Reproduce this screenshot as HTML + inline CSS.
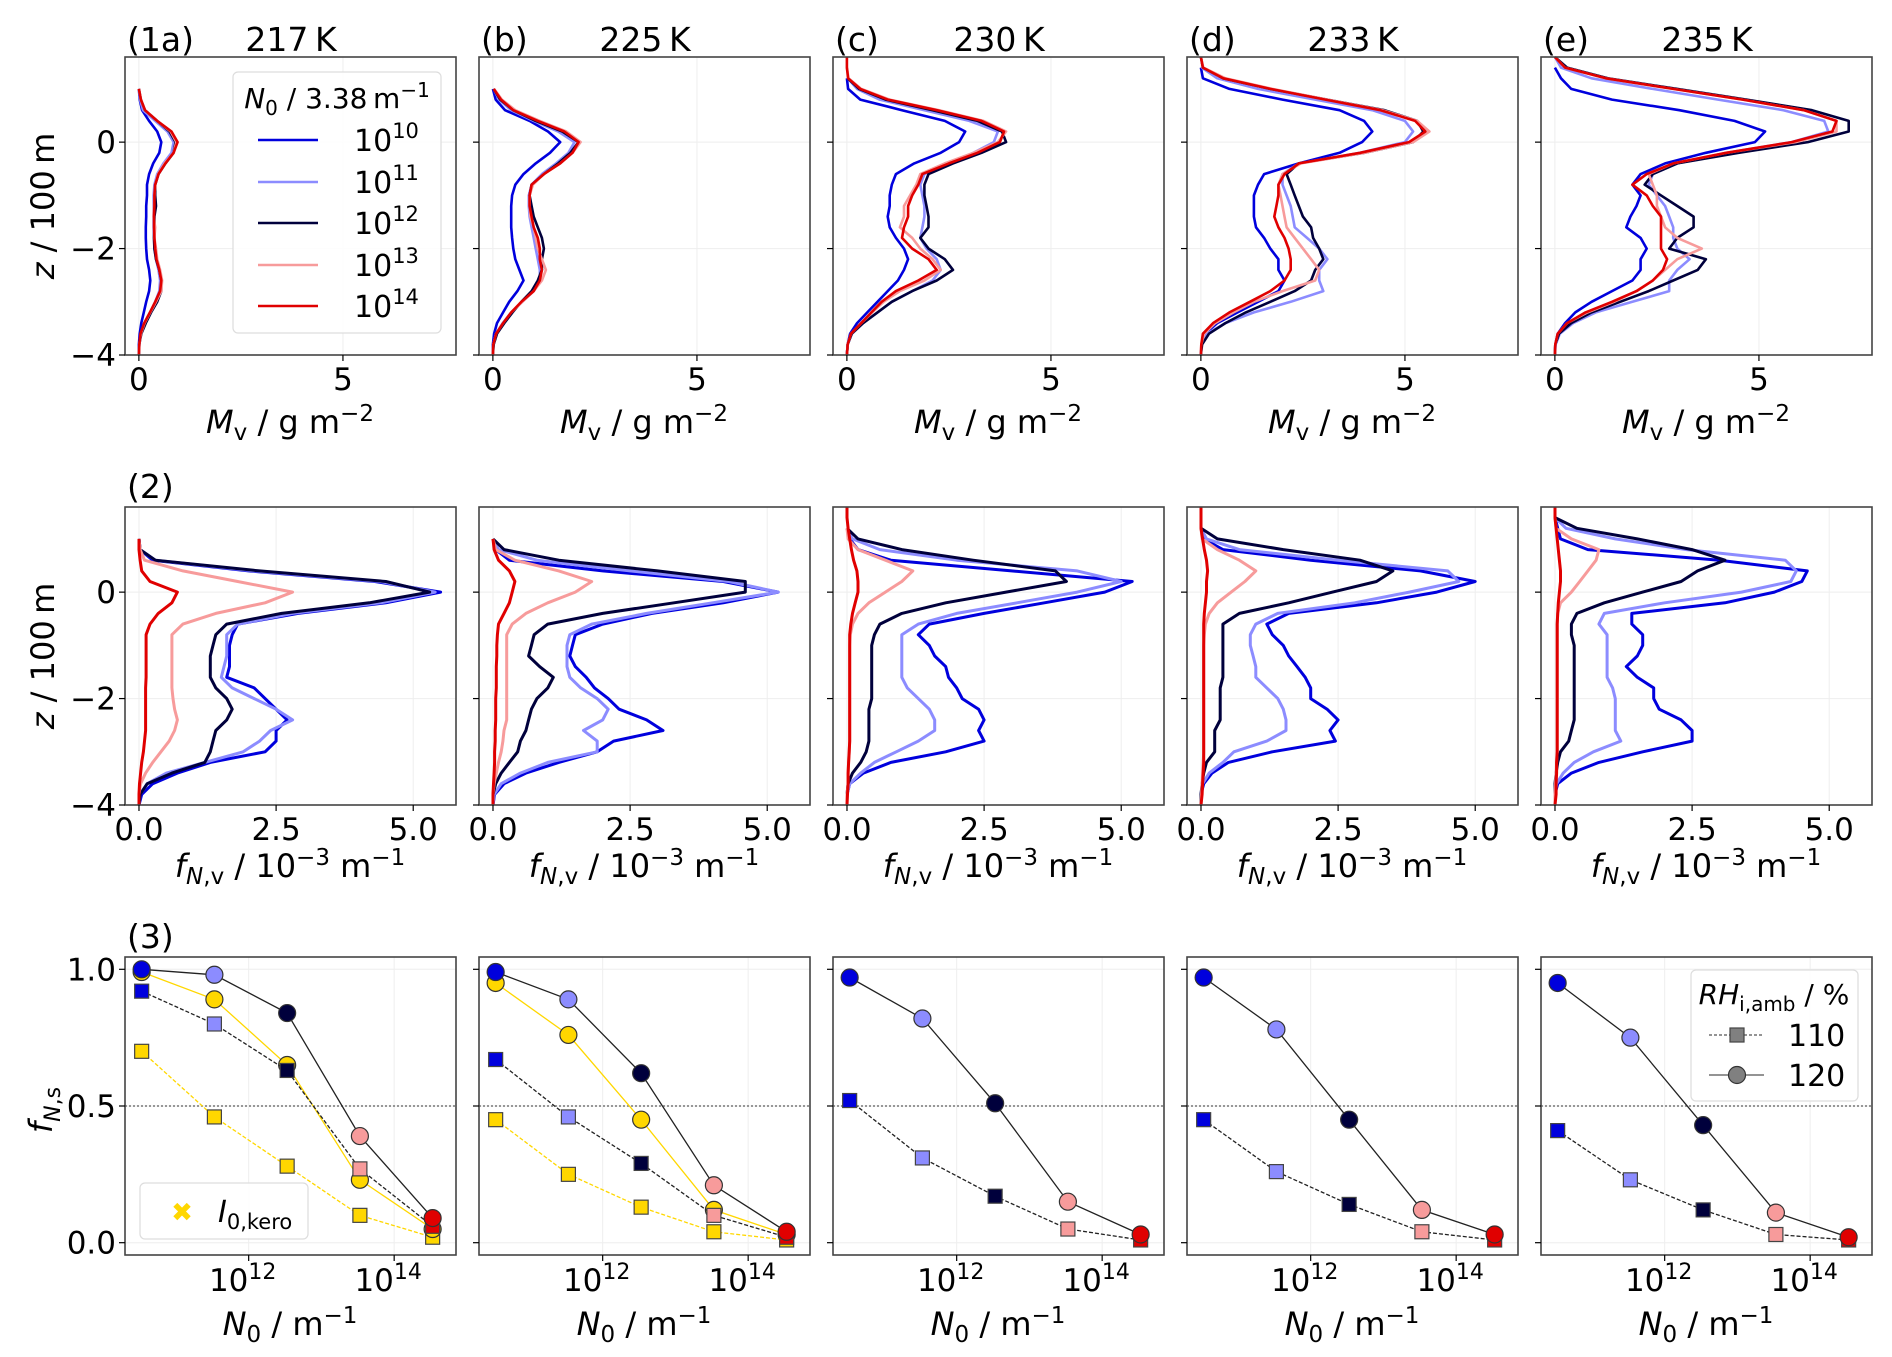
<!DOCTYPE html>
<html><head><meta charset="utf-8">
<style>
html,body{margin:0;padding:0;background:#fff;}
svg{display:block;font-family:"DejaVu Sans","Liberation Sans",sans-serif;}
</style></head>
<body>
<svg id="fig" width="1892" height="1357" viewBox="0 0 1892 1357" xmlns="http://www.w3.org/2000/svg"></svg>
<script>
const n = null;
const zGrid = [1.6,1.4,1.2,1.0,0.8,0.6,0.4,0.2,0,-0.2,-0.4,-0.6,-0.8,-1.0,-1.2,-1.4,-1.6,-1.8,-2.0,-2.2,-2.4,-2.6,-2.8,-3.0,-3.2,-3.4,-3.6,-3.8,-4.0];
const temps = ["217", "225", "230", "233", "235"];
const panelTags = ["(1a)", "(b)", "(c)", "(d)", "(e)"];
const seriesExp = ["10", "11", "12", "13", "14"];
const row1Ticks = [0, 5];
const row2Ticks = [0, 2.5, 5.0];
const row2TickLabels = ["0.0", "2.5", "5.0"];
const zTicks = [0, -2, -4];
const fsTicks = [0, 0.5, 1.0];
const fsTickLabels = ["0.0", "0.5", "1.0"];
const n0Values = [3.38e10, 3.38e11, 3.38e12, 3.38e13, 3.38e14];
const n0TickExp = [12, 14];

const mv217_10 = [n,n,n,0,0.02,0.08,0.25,0.45,0.55,0.5,0.35,0.25,0.2,0.2,0.18,0.18,0.17,0.17,0.18,0.2,0.25,0.28,0.25,0.18,0.12,0.06,0.02,0,0];
const mv217_11 = [n,n,n,0,0.03,0.1,0.4,0.7,0.85,0.8,0.6,0.45,0.38,0.36,0.36,0.36,0.36,0.37,0.38,0.42,0.48,0.52,0.5,0.4,0.28,0.14,0.05,0.01,0];
const mv217_12 = [n,n,n,0,0.05,0.15,0.45,0.75,0.9,0.85,0.65,0.48,0.4,0.4,0.42,0.38,0.38,0.37,0.38,0.42,0.5,0.55,0.55,0.45,0.3,0.17,0.06,0.01,0];
const mv217_13 = [n,n,n,0,0.05,0.15,0.45,0.78,0.92,0.85,0.63,0.47,0.4,0.38,0.37,0.36,0.4,0.38,0.42,0.45,0.52,0.57,0.55,0.42,0.28,0.14,0.05,0.01,0];
const mv217_14 = [n,n,n,0,0.05,0.15,0.45,0.8,0.95,0.85,0.65,0.48,0.4,0.38,0.38,0.37,0.37,0.38,0.4,0.43,0.5,0.55,0.52,0.4,0.27,0.13,0.04,0.01,0];
const mv225_10 = [n,n,n,0,0.07,0.3,0.9,1.35,1.65,1.4,1.05,0.75,0.55,0.47,0.45,0.45,0.45,0.47,0.5,0.55,0.65,0.75,0.6,0.4,0.25,0.1,0.03,0,0];
const mv225_11 = [n,n,n,0.02,0.15,0.45,1.0,1.6,2.0,1.85,1.55,1.2,0.95,0.88,0.88,0.9,0.95,1.0,1.05,1.1,1.15,1.15,1.0,0.72,0.45,0.24,0.08,0.01,0];
const mv225_12 = [n,n,n,0.02,0.18,0.5,1.05,1.7,2.1,1.9,1.6,1.25,0.95,0.9,0.95,1.0,1.1,1.2,1.25,1.2,1.2,1.1,0.95,0.7,0.48,0.28,0.1,0.02,0];
const mv225_13 = [n,n,n,0.03,0.22,0.55,1.15,1.8,2.15,1.95,1.65,1.25,0.98,0.9,0.9,0.92,1.0,1.05,1.1,1.2,1.3,1.2,1.0,0.72,0.45,0.25,0.08,0.01,0];
const mv225_14 = [n,n,n,0.02,0.2,0.5,1.1,1.75,2.1,1.95,1.65,1.25,0.95,0.9,0.9,0.95,1.0,1.1,1.15,1.15,1.2,1.15,1.0,0.7,0.45,0.25,0.08,0.01,0];
const mv230_10 = [n,n,0,0.03,0.33,1.35,2.4,2.9,2.75,2.3,1.65,1.2,1.1,1.05,1.05,1.0,1.05,1.2,1.4,1.5,1.4,1.25,1.0,0.75,0.5,0.25,0.08,0.02,0];
const mv230_11 = [n,n,0.02,0.25,0.8,1.9,3.0,3.7,3.6,3.1,2.5,1.9,1.8,1.85,1.9,1.9,1.85,1.8,1.95,2.2,2.3,2.1,1.6,1.1,0.75,0.4,0.12,0.02,0];
const mv230_12 = [n,n,0.02,0.3,0.95,2.1,3.2,3.8,3.9,3.3,2.6,2.0,1.9,1.9,1.95,2.0,2.0,1.8,2.0,2.4,2.6,2.2,1.6,1.1,0.75,0.4,0.12,0.02,0];
const mv230_13 = [n,0,0.04,0.35,1.05,2.25,3.35,3.9,3.7,3.1,2.4,1.8,1.7,1.55,1.4,1.4,1.3,1.6,1.8,2.1,2.3,1.9,1.3,0.9,0.62,0.35,0.1,0.02,0];
const mv230_14 = [0,0,0.03,0.33,1.0,2.2,3.3,3.85,3.75,3.2,2.5,1.85,1.75,1.6,1.5,1.5,1.4,1.35,1.6,2.0,2.2,1.75,1.2,0.85,0.6,0.35,0.1,0.02,0];
const mv233_10 = [n,0,0.05,0.7,2.0,3.4,4.0,4.2,3.95,3.4,2.4,1.55,1.4,1.3,1.3,1.3,1.35,1.55,1.7,1.9,1.9,2.05,1.9,1.4,0.9,0.4,0.1,0.02,0];
const mv233_11 = [n,0.02,0.4,1.4,2.8,4.2,5.0,5.2,5.0,3.9,2.4,2.0,2.0,2.1,2.2,2.25,2.3,2.6,2.9,3.1,2.9,2.9,3.0,2.2,1.3,0.6,0.15,0.02,0];
const mv233_12 = [0,0.05,0.55,1.7,3.1,4.5,5.3,5.45,5.2,4.0,2.4,2.1,2.2,2.3,2.4,2.5,2.7,2.75,2.9,3.0,2.8,2.7,2.3,1.7,1.1,0.6,0.2,0.03,0];
const mv233_13 = [0,0.06,0.6,1.75,3.1,4.45,5.3,5.6,5.2,4.0,2.45,2.0,1.9,1.95,2.0,2.05,2.1,2.3,2.5,2.7,2.9,2.8,2.0,1.3,0.8,0.35,0.08,0.01,0];
const mv233_14 = [0,0.05,0.55,1.7,3.05,4.4,5.25,5.5,5.1,3.9,2.4,2.05,1.9,1.9,1.85,1.8,1.9,2.05,2.15,2.2,2.2,2.05,1.7,1.2,0.7,0.3,0.05,0.01,0];
const mv235_10 = [n,0,0.15,0.4,1.4,3.05,4.4,5.15,4.9,3.7,2.7,2.1,1.9,2.1,2.0,1.85,1.75,2.1,2.25,2.1,2.1,1.9,1.4,0.9,0.5,0.25,0.07,0.01,0];
const mv235_11 = [0,0.15,0.9,2.4,4.0,5.6,6.6,6.7,5.8,4.2,3.0,2.4,2.3,2.5,2.7,2.8,2.9,2.9,3.0,3.3,3.0,2.8,2.8,1.9,1.0,0.45,0.12,0.02,0];
const mv235_12 = [0,0.3,1.3,3.0,4.7,6.3,7.2,7.2,6.2,4.5,3.0,2.4,2.2,2.6,3.0,3.4,3.4,3.0,2.8,3.7,3.5,2.9,2.3,1.6,0.9,0.4,0.1,0.01,0];
const mv235_13 = [0,0.25,1.25,2.9,4.6,6.1,6.9,6.9,5.9,4.2,2.9,2.3,2.4,2.5,2.5,2.6,2.7,3.0,3.6,3.0,2.7,2.4,2.0,1.45,0.8,0.3,0.07,0.01,0];
const mv235_14 = [0,0.25,1.25,2.9,4.6,6.1,6.9,6.8,5.8,4.2,2.9,2.25,1.9,2.25,2.4,2.6,2.6,2.6,2.6,2.75,2.65,2.4,2.0,1.4,0.75,0.3,0.07,0.01,0];

const fn217_10 = [n,n,n,0,0.02,0.25,2.0,4.3,5.5,4.5,2.9,1.8,1.7,1.65,1.65,1.65,1.6,2.1,2.3,2.5,2.7,2.5,2.5,2.3,1.3,0.7,0.25,0.05,0];
const fn217_11 = [n,n,n,0,0.02,0.3,2.1,4.4,5.4,4.4,2.8,1.8,1.6,1.6,1.6,1.55,1.5,1.7,2.1,2.5,2.8,2.4,2.2,1.9,1.2,0.5,0.15,0.02,0];
const fn217_12 = [n,n,n,0,0.02,0.3,2.2,4.5,5.3,4.2,2.6,1.6,1.4,1.35,1.3,1.3,1.3,1.4,1.6,1.7,1.6,1.4,1.35,1.3,1.2,0.6,0.15,0.02,0];
const fn217_13 = [n,n,n,0,0.02,0.1,0.8,1.8,2.8,2.3,1.4,0.8,0.6,0.6,0.6,0.6,0.6,0.6,0.62,0.65,0.7,0.65,0.55,0.4,0.25,0.12,0.03,0,0];
const fn217_14 = [n,n,n,0,0,0.02,0.05,0.2,0.7,0.6,0.35,0.2,0.13,0.13,0.13,0.13,0.13,0.12,0.12,0.12,0.12,0.12,0.1,0.08,0.05,0.03,0.01,0,0];
const fn225_10 = [n,n,n,0,0.05,0.3,2.0,4.2,5.2,4.2,2.9,2.0,1.5,1.45,1.4,1.5,1.7,1.85,2.1,2.3,2.8,3.1,2.2,1.9,1.2,0.6,0.2,0.03,0];
const fn225_11 = [n,n,n,0,0.1,0.8,2.5,4.3,5.2,4.0,2.8,1.8,1.4,1.35,1.35,1.35,1.4,1.6,1.9,2.1,2.0,1.65,1.9,1.9,1.0,0.5,0.15,0.02,0];
const fn225_12 = [n,n,n,0,0.2,1.2,3.0,4.6,4.6,3.3,2.0,1.0,0.75,0.7,0.65,0.85,1.1,1.0,0.8,0.7,0.65,0.6,0.5,0.45,0.3,0.15,0.05,0,0];
const fn225_13 = [n,n,n,0,0.05,0.4,1.2,1.8,1.5,1.0,0.6,0.35,0.25,0.25,0.25,0.25,0.25,0.25,0.25,0.25,0.25,0.2,0.18,0.15,0.1,0.06,0.02,0,0];
const fn225_14 = [n,n,n,0,0.02,0.1,0.3,0.4,0.35,0.3,0.2,0.1,0.08,0.07,0.07,0.06,0.06,0.06,0.05,0.05,0.05,0.04,0.04,0.03,0.03,0.02,0.01,0,0];
const fn230_10 = [n,n,0,0.05,0.2,0.8,3.0,5.2,4.7,3.6,2.5,1.5,1.3,1.5,1.6,1.8,1.85,2.0,2.1,2.4,2.5,2.4,2.5,1.8,0.8,0.3,0.05,0,0];
const fn230_11 = [n,n,0,0.1,0.6,2.0,4.2,5.0,4.2,3.1,2.0,1.3,1.0,1.0,1.0,1.0,1.0,1.1,1.3,1.5,1.6,1.6,1.3,0.9,0.5,0.25,0.05,0,0];
const fn230_12 = [n,n,0,0.2,1.0,2.3,3.8,4.0,2.9,1.8,1.0,0.6,0.5,0.45,0.45,0.45,0.45,0.45,0.45,0.4,0.4,0.4,0.4,0.35,0.25,0.1,0.02,0,0];
const fn230_13 = [n,n,0,0.02,0.2,0.7,1.2,1.0,0.7,0.4,0.2,0.1,0.06,0.05,0.05,0.05,0.05,0.05,0.05,0.05,0.05,0.05,0.05,0.04,0.03,0.02,0.02,0,0];
const fn230_14 = [0,0,0.02,0.05,0.08,0.12,0.18,0.2,0.2,0.15,0.1,0.07,0.05,0.05,0.05,0.05,0.05,0.05,0.05,0.05,0.05,0.05,0.05,0.04,0.03,0.02,0.02,0.01,0];
const fn233_10 = [n,n,0,0.05,0.4,2.0,4.0,5.0,4.3,3.2,1.6,1.2,1.3,1.5,1.6,1.75,1.9,2.0,2.0,2.3,2.5,2.35,2.45,1.3,0.5,0.2,0.05,0,0];
const fn233_11 = [n,n,0,0.1,0.7,2.5,4.5,4.7,3.8,2.8,1.4,1.0,0.9,0.9,0.95,1.0,1.0,1.2,1.4,1.5,1.55,1.55,1.2,0.6,0.4,0.15,0.03,0,0];
const fn233_12 = [n,n,0,0.3,1.5,2.9,3.5,3.2,2.4,1.6,0.7,0.4,0.4,0.4,0.4,0.4,0.4,0.35,0.35,0.35,0.35,0.25,0.25,0.25,0.1,0.05,0.02,0,0];
const fn233_13 = [n,n,0,0.02,0.3,0.7,1.0,0.8,0.55,0.3,0.15,0.08,0.06,0.05,0.05,0.05,0.05,0.05,0.05,0.05,0.05,0.05,0.05,0.05,0.04,0.03,0.02,0.01,0];
const fn233_14 = [0,0,0,0.03,0.06,0.1,0.12,0.1,0.1,0.08,0.06,0.05,0.05,0.05,0.05,0.05,0.05,0.05,0.05,0.05,0.05,0.05,0.05,0.05,0.05,0.04,0.03,0.02,0];
const fn235_10 = [n,0,0.05,0.1,0.6,3.0,4.6,4.5,4.0,3.1,1.4,1.4,1.6,1.6,1.5,1.3,1.5,1.8,1.8,1.9,2.3,2.5,2.5,1.6,0.8,0.3,0.05,0,0];
const fn235_11 = [n,0,0.2,1.1,2.4,4.2,4.4,4.3,3.4,2.0,0.9,0.8,0.95,0.95,0.95,0.95,0.95,1.05,1.1,1.1,1.1,1.1,1.2,0.7,0.35,0.15,0.03,0,0];
const fn235_12 = [n,0,0.4,1.5,2.5,3.1,2.6,2.3,1.6,0.9,0.4,0.3,0.3,0.35,0.35,0.35,0.35,0.35,0.35,0.35,0.35,0.3,0.25,0.1,0.05,0.02,0,0,0];
const fn235_13 = [n,0,0.02,0.3,0.8,0.75,0.6,0.45,0.3,0.1,0.05,0.04,0.04,0.04,0.04,0.04,0.04,0.04,0.04,0.04,0.04,0.04,0.04,0.04,0.03,0.02,0.01,0,0];
const fn235_14 = [0,0,0.02,0.04,0.06,0.08,0.1,0.1,0.08,0.06,0.05,0.04,0.04,0.04,0.04,0.04,0.04,0.04,0.04,0.04,0.04,0.04,0.04,0.04,0.03,0.03,0.02,0.02,0];

const fs120_217 = [1.0, 0.98, 0.84, 0.39, 0.09];
const fs110_217 = [0.92, 0.80, 0.63, 0.27, 0.06];
const fsKero120_217 = [0.99, 0.89, 0.65, 0.23, 0.05];
const fsKero110_217 = [0.70, 0.46, 0.28, 0.10, 0.02];
const fs120_225 = [0.99, 0.89, 0.62, 0.21, 0.04];
const fs110_225 = [0.67, 0.46, 0.29, 0.10, 0.02];
const fsKero120_225 = [0.95, 0.76, 0.45, 0.12, 0.03];
const fsKero110_225 = [0.45, 0.25, 0.13, 0.04, 0.01];
const fs120_230 = [0.97, 0.82, 0.51, 0.15, 0.03];
const fs110_230 = [0.52, 0.31, 0.17, 0.05, 0.01];
const fs120_233 = [0.97, 0.78, 0.45, 0.12, 0.03];
const fs110_233 = [0.45, 0.26, 0.14, 0.04, 0.01];
const fs120_235 = [0.95, 0.75, 0.43, 0.11, 0.02];
const fs110_235 = [0.41, 0.23, 0.12, 0.03, 0.01];

const mvPanels = [
  [mv217_10, mv217_11, mv217_12, mv217_13, mv217_14],
  [mv225_10, mv225_11, mv225_12, mv225_13, mv225_14],
  [mv230_10, mv230_11, mv230_12, mv230_13, mv230_14],
  [mv233_10, mv233_11, mv233_12, mv233_13, mv233_14],
  [mv235_10, mv235_11, mv235_12, mv235_13, mv235_14]];
const fnPanels = [
  [fn217_10, fn217_11, fn217_12, fn217_13, fn217_14],
  [fn225_10, fn225_11, fn225_12, fn225_13, fn225_14],
  [fn230_10, fn230_11, fn230_12, fn230_13, fn230_14],
  [fn233_10, fn233_11, fn233_12, fn233_13, fn233_14],
  [fn235_10, fn235_11, fn235_12, fn235_13, fn235_14]];
const fs120Panels = [fs120_217, fs120_225, fs120_230, fs120_233, fs120_235];
const fs110Panels = [fs110_217, fs110_225, fs110_230, fs110_233, fs110_235];
const kero120Panels = [fsKero120_217, fsKero120_225, null, null, null];
const kero110Panels = [fsKero110_217, fsKero110_225, null, null, null];

const COLORS = ["#0000dd", "#8c8cff", "#00003c", "#f79b9b", "#e00000"];
const YELLOW = "#ffd700";
const NS = "http://www.w3.org/2000/svg";
const svg = document.getElementById("fig");
const LEFTS = [125, 479, 833, 1187, 1541];
const PW = 331, PH = 298;
const ROWTOP = [57, 507, 957];

function mk(tag, attrs, parent) {
  const e = document.createElementNS(NS, tag);
  for (const k in attrs) e.setAttribute(k, attrs[k]);
  (parent || svg).appendChild(e);
  return e;
}
function txt(x, y, s, size, anchor, parent) {
  const t = mk("text", {x: x, y: y, "font-size": size, "text-anchor": anchor || "middle", fill: "#000"}, parent);
  t.textContent = s;
  return t;
}
function tsp(t, s, attrs) {
  const e = document.createElementNS(NS, "tspan");
  for (const k in attrs) e.setAttribute(k, attrs[k]);
  e.textContent = s;
  t.appendChild(e);
  return e;
}
function linScale(d0, d1, r0, r1) { return v => r0 + (v - d0) * (r1 - r0) / (d1 - d0); }

function frame(g, L, T) {
  const f = mk("rect", {x: L, y: T, width: PW, height: PH, fill: "none", stroke: "#444", "stroke-width": 1.6}, g);
  
  
}

function profilePanel(row, p, data, xr, xticks, xlabels, lw) {
  const L = LEFTS[p], T = ROWTOP[row];
  const g = mk("g", {});
  
  
  const sx = linScale(xr[0], xr[1], L, L + PW);
  const sy = linScale(-4, 1.6, T + PH, T);
  xticks.forEach(v => mk("line", {x1: sx(v), x2: sx(v), y1: T, y2: T + PH, stroke: "#eee", "stroke-width": 1}, g));
  zTicks.forEach(v => mk("line", {x1: L, x2: L + PW, y1: sy(v), y2: sy(v), stroke: "#eee", "stroke-width": 1}, g));
  data.forEach((arr, si) => {
    let d = "";
    arr.forEach((v, i) => {
      if (v === null) return;
      d += (d ? "L" : "M") + sx(v).toFixed(1) + "," + sy(zGrid[i]).toFixed(1);
    });
    const pth = mk("path", {d: d, fill: "none", stroke: COLORS[si], "stroke-width": lw, "stroke-linejoin": "round"}, g);
    
    
  });
  frame(g, L, T);
  xticks.forEach((v, i) => {
    mk("line", {x1: sx(v), x2: sx(v), y1: T + PH, y2: T + PH + 6, stroke: "#000", "stroke-width": 1.2}, g);
    const t = txt(sx(v), T + PH + 35, xlabels[i], 31, "middle", g);
    
    
  });
  zTicks.forEach(v => {
    mk("line", {x1: L - 6, x2: L, y1: sy(v), y2: sy(v), stroke: "#000", "stroke-width": 1.2}, g);
    if (p === 0) {
      const t = txt(L - 9, sy(v) + 11, v < 0 ? "\u2212" + (-v) : String(v), 31, "end", g);
      
      
    }
  });
  const lx = L + 165;
  if (row === 0) {
    const t = txt(lx, T + PH + 78, "", 32, "middle", g);
    tsp(t, "M", {"font-style": "italic"});
    tsp(t, "v", {"font-size": 23, dy: 7});
    tsp(t, " / g m", {dy: -7});
    tsp(t, "\u22122", {"font-size": 23, dy: -12});
    
    
  } else {
    const t = txt(lx, T + PH + 72, "", 32, "middle", g);
    tsp(t, "f", {"font-style": "italic"});
    tsp(t, "N", {"font-size": 23, dy: 7, "font-style": "italic"});
    tsp(t, ",v", {"font-size": 23});
    tsp(t, " / 10", {dy: -7});
    tsp(t, "\u22123", {"font-size": 23, dy: -12});
    tsp(t, " m", {dy: 12});
    tsp(t, "\u22121", {"font-size": 23, dy: -12});
    
    
  }
}

function marker(g, shape, x, y, fill) {
  let m;
  if (shape === "c") m = mk("ellipse", {cx: x, cy: y, rx: 8.5, ry: 8.5, fill: fill, stroke: "#333", "stroke-width": 1.2}, g);
  else m = mk("rect", {x: x - 7, y: y - 7, width: 14, height: 14, fill: fill, stroke: "#444", "stroke-width": 1.2}, g);
  return m;
}

function fsPanel(p) {
  const L = LEFTS[p], T = ROWTOP[2];
  const g = mk("g", {});
  
  
  const sx = linScale(10.30, 14.85, L, L + PW);
  const sy = linScale(-0.045, 1.045, T + PH, T);
  n0TickExp.forEach(e => mk("line", {x1: sx(e), x2: sx(e), y1: T, y2: T + PH, stroke: "#eee", "stroke-width": 1}, g));
  fsTicks.forEach(v => mk("line", {x1: L, x2: L + PW, y1: sy(v), y2: sy(v), stroke: "#eee", "stroke-width": 1}, g));
  mk("line", {x1: L, x2: L + PW, y1: sy(0.5), y2: sy(0.5), stroke: "#777", "stroke-width": 1.5, "stroke-dasharray": "2,2"}, g);
  const lx = n0Values.map(v => sx(Math.log10(v)));
  function series(vals, shape, lineCol, dash, fills, name) {
    if (!vals) return;
    const d = vals.map((v, i) => (i ? "L" : "M") + lx[i].toFixed(1) + "," + sy(v).toFixed(1)).join("");
    const pl = mk("path", {d: d, fill: "none", stroke: lineCol, "stroke-width": 1.3, "stroke-dasharray": dash}, g);
    
    
    vals.forEach((v, i) => {
      const m = marker(g, shape, lx[i], sy(v), fills[i]);
      
      
    });
  }
  const Y5 = [YELLOW, YELLOW, YELLOW, YELLOW, YELLOW];
  series(kero110Panels[p], "s", YELLOW, "4,2", Y5, 'kero-110');
  series(kero120Panels[p], "c", YELLOW, "none", Y5, 'kero-120');
  series(fs110Panels[p], "s", "#222", "4,2", COLORS, 'rh110');
  series(fs120Panels[p], "c", "#222", "none", COLORS, 'rh120');
  frame(g, L, T);
  n0TickExp.forEach(e => {
    mk("line", {x1: sx(e), x2: sx(e), y1: T + PH, y2: T + PH + 6, stroke: "#000", "stroke-width": 1.2}, g);
    const t = txt(sx(e) - 6, T + PH + 36, "10", 31, "middle", g);
    tsp(t, String(e), {"font-size": 22, dy: -12});
    
    
  });
  fsTicks.forEach((v, i) => {
    mk("line", {x1: L - 6, x2: L, y1: sy(v), y2: sy(v), stroke: "#000", "stroke-width": 1.2}, g);
    if (p === 0) {
      const t = txt(L - 9, sy(v) + 11, fsTickLabels[i], 31, "end", g);
      
      
    }
  });
  const t = txt(L + 165, T + PH + 80, "", 32, "middle", g);
  tsp(t, "N", {"font-style": "italic"});
  tsp(t, "0", {"font-size": 23, dy: 7});
  tsp(t, " / m", {dy: -7});
  tsp(t, "\u22121", {"font-size": 23, dy: -12});
  
  
}

for (let p = 0; p < 5; p++) {
  profilePanel(0, p, mvPanels[p], [-0.34, 7.77], row1Ticks, ["0", "5"], 2.6);
  profilePanel(1, p, fnPanels[p], [-0.255, 5.78], row2Ticks, row2TickLabels, 3.0);
  fsPanel(p);
  const tg = txt(LEFTS[p] + 2, 51, panelTags[p], 33, "start");
  
  
  const tt = txt(LEFTS[p] + 166, 51, temps[p] + "\u2009K", 33, "middle");
  
  
}
const r2 = txt(127, 498, "(2)", 33, "start");


const r3 = txt(127, 948, "(3)", 33, "start");



[206, 656].forEach(cy => {
  const t = txt(0, 0, "", 32, "middle");
  t.setAttribute("transform", "translate(54," + cy + ") rotate(-90)");
  tsp(t, "z", {"font-style": "italic"});
  tsp(t, " / 100\u2009m", {});
  
  
});
{
  const t = txt(0, 0, "", 32, "middle");
  t.setAttribute("transform", "translate(52,1110) rotate(-90)");
  tsp(t, "f", {"font-style": "italic"});
  tsp(t, "N", {"font-size": 22, dy: 8, "font-style": "italic"});
  tsp(t, ",s", {"font-size": 22});
  
  
}

{
  const g = mk("g", {});
  
  
  mk("rect", {x: 233, y: 72, width: 208, height: 261, rx: 5, fill: "#fff", "fill-opacity": 0.85, stroke: "#ddd", "stroke-width": 1.2}, g);
  const t = txt(337, 108, "", 28, "middle", g);
  tsp(t, "N", {"font-style": "italic"});
  tsp(t, "0", {"font-size": 20, dy: 7});
  tsp(t, " / 3.38\u2009m", {dy: -7});
  tsp(t, "\u22121", {"font-size": 20, dy: -11});
  const ys = [140, 182, 223, 265, 306];
  seriesExp.forEach((e, i) => {
    const l = mk("line", {x1: 258, x2: 318, y1: ys[i], y2: ys[i], stroke: COLORS[i], "stroke-width": 2.6}, g);
    
    
    const tt = txt(354, ys[i] + 11, "10", 30, "start", g);
    tsp(tt, e, {"font-size": 21, dy: -13});
    
    
  });
}
{
  const g = mk("g", {});
  
  
  mk("rect", {x: 140, y: 1183, width: 168, height: 56, rx: 5, fill: "#fff", "fill-opacity": 0.85, stroke: "#ddd", "stroke-width": 1.2}, g);
  const x = txt(182, 1221, "\u2716", 26, "middle", g);
  x.setAttribute("fill", YELLOW);
  
  
  const t = txt(218, 1222, "", 30, "start", g);
  tsp(t, "I", {"font-style": "italic"});
  tsp(t, "0,kero", {"font-size": 21, dy: 7});
}
{
  const g = mk("g", {});
  
  
  mk("rect", {x: 1691, y: 970, width: 167, height: 131, rx: 5, fill: "#fff", "fill-opacity": 0.85, stroke: "#ddd", "stroke-width": 1.2}, g);
  const t = txt(1774, 1004, "", 28, "middle", g);
  tsp(t, "RH", {"font-style": "italic"});
  tsp(t, "i,amb", {"font-size": 20, dy: 7});
  tsp(t, " / %", {dy: -7});
  mk("line", {x1: 1709, x2: 1764, y1: 1035, y2: 1035, stroke: "#555", "stroke-width": 1.3, "stroke-dasharray": "3,2"}, g);
  marker(g, "s", 1737, 1035, "#808080");
  const a = txt(1788, 1046, "110", 30, "start", g);
  
  
  mk("line", {x1: 1709, x2: 1764, y1: 1075, y2: 1075, stroke: "#555", "stroke-width": 1.3}, g);
  marker(g, "c", 1737, 1075, "#808080");
  const b = txt(1788, 1086, "120", 30, "start", g);
  
  
}
</script>
</body></html>
